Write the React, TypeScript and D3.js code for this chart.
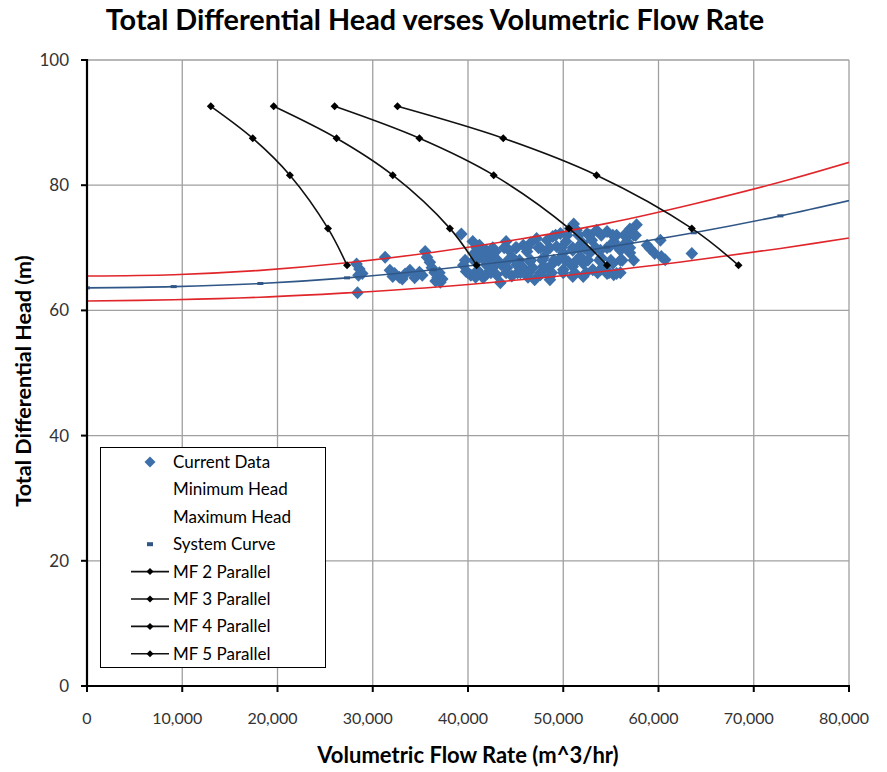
import React, { useEffect, useRef } from "react";
import * as d3 from "d3";

const flowTicks = [0, 10000, 20000, 30000, 40000, 50000, 60000, 70000, 80000];
const headTicks = [0, 20, 40, 60, 80, 100];

// pump curves (flow m^3/hr at each head point)
const mfHeads = [92.6, 87.5, 81.6, 73.1, 67.2];
const mf2Flow = [13000, 17400, 21300, 25300, 27300];
const mf3Flow = [19600, 26200, 32100, 38100, 40900];
const mf4Flow = [26000, 34900, 42700, 50600, 54600];
const mf5Flow = [32600, 43700, 53500, 63500, 68400];

// system curve and head band
const systemFlow = [0, 9100, 18200, 27300, 36400, 45500, 54600, 63700, 72800, 81900];
const systemHead = [63.6, 63.8, 64.3, 65.2, 66.5, 68.1, 70.1, 72.4, 75.1, 78.2];
const minHead = [61.5, 61.7, 62.1, 62.8, 63.7, 64.9, 66.3, 68.0, 69.9, 72.0];
const maxHead = [65.5, 65.7, 66.4, 67.6, 69.3, 71.4, 73.9, 77.0, 80.5, 84.5];

// measured operating points [flow, head]
const currentData: [number, number][] = [
  [28300, 67.4], [28600, 66.6], [28900, 65.9], [28500, 65.6], [28400, 62.8],
  [31300, 68.5], [31800, 66.4], [32300, 65.9], [32800, 65.3], [33100, 65.0],
  [32100, 65.4], [33900, 66.4], [34400, 65.2], [34900, 66.1], [35500, 69.4],
  [35700, 68.5], [36000, 67.7], [36200, 66.8], [36500, 66.0], [36800, 65.2],
  [37100, 64.5], [36600, 64.7], [37300, 65.0],
  [39300, 72.2], [39500, 67.2], [39800, 66.2], [40300, 65.6], [40800, 65.3],
  [39700, 68.0], [40500, 71.0], [41200, 70.4], [41900, 69.6], [42600, 68.8],
  [43100, 68.0], [43500, 67.3], [42300, 68.4], [41500, 69.2], [41200, 68.4],
  [41900, 67.3], [42600, 66.8], [43000, 65.7], [40900, 70.0], [41000, 66.4],
  [42000, 65.9], [43400, 64.4], [41600, 65.2], [40700, 69.2], [42900, 69.4],
  [44300, 69.6], [44700, 68.4], [45100, 67.3], [45500, 66.0], [45800, 70.4],
  [46200, 69.4], [46500, 67.8], [46800, 66.8], [47200, 71.5], [47600, 70.0],
  [47900, 68.4], [48100, 66.8], [47600, 65.7], [45100, 70.0], [45800, 66.8],
  [44100, 66.8], [44600, 65.5], [46300, 65.3], [47000, 64.9], [44000, 71.0],
  [46600, 70.8], [48300, 71.2], [48300, 69.6], [48600, 65.4],
  [48900, 71.8], [49700, 72.3], [50700, 73.1], [51100, 73.8], [51400, 72.8],
  [52500, 72.3], [53500, 72.8], [54600, 72.6], [55600, 72.0], [57700, 73.7],
  [57000, 73.0], [57400, 72.0], [56700, 71.8], [56800, 70.8],
  [49300, 70.2], [50000, 69.2], [51000, 69.6], [51800, 68.6], [52800, 69.2],
  [53900, 69.6], [54900, 70.2], [56000, 69.6], [57000, 69.2], [56300, 70.4],
  [47900, 67.0], [48900, 67.5], [50000, 66.5], [51000, 67.0], [52100, 67.5],
  [53100, 66.5], [54200, 67.0], [55200, 67.5], [54600, 65.9], [55600, 65.9],
  [48600, 64.9], [51000, 65.4], [52100, 65.4], [53900, 66.5], [55300, 65.7],
  [50300, 71.0], [52000, 70.8], [53000, 71.2], [55300, 71.0], [49500, 68.0],
  [51500, 70.0], [54000, 68.4], [56000, 68.0], [50500, 67.8],
  [59100, 69.9], [59600, 69.1], [60200, 71.2], [60700, 68.1], [60300, 68.6],
  [63500, 69.1],
  [40000, 66.0], [41200, 66.0], [42400, 66.0], [44000, 66.0], [45200, 66.0],
  [46400, 66.0], [47600, 66.0], [48800, 66.0], [50000, 66.0], [51200, 66.0],
  [52400, 66.0], [53600, 66.0], [54800, 66.0], [56000, 66.0],
  [40600, 68.0], [41800, 68.0], [43000, 68.0], [44200, 68.0], [45400, 68.0],
  [46600, 68.0], [47800, 68.0], [49000, 68.0], [50200, 68.0], [51400, 68.0],
  [52600, 68.0], [53800, 68.0], [55000, 68.0], [56200, 68.0], [57400, 68.0],
  [41400, 70.0], [42600, 70.0], [43800, 70.0], [45000, 70.0], [46200, 70.0],
  [47400, 70.0], [48600, 70.0], [49800, 70.0], [51000, 70.0], [52200, 70.0],
  [53400, 70.0], [54600, 70.0], [55800, 70.0], [57000, 70.0],
  [49200, 72.0], [50400, 72.0], [51600, 72.0], [52800, 72.0], [54000, 72.0],
  [55200, 72.0], [56400, 72.0], [57600, 72.0],
  [33400, 65.8], [35200, 65.6], [37000, 66.0], [58800, 70.4],
];

const W = 887;
const H = 772;
const plot = { left: 87, right: 849, top: 60, bottom: 686 };
const FONT = "Lato, 'Open Sans', sans-serif";
const BLUE = "#3d70aa";
const RED = "#e0262b";
const SYS = "#2f5686";

const diamondPath = (rx: number, ry: number) => {
  const p = d3.path();
  p.moveTo(0, -ry);
  p.lineTo(rx, 0);
  p.lineTo(0, ry);
  p.lineTo(-rx, 0);
  p.closePath();
  return p.toString();
};

const App: React.FC = () => {
  const svgRef = useRef<SVGSVGElement | null>(null);

  useEffect(() => {
    if (!svgRef.current) return;
    const svg = d3.select(svgRef.current);
    svg.selectAll("*").remove();

    const x = d3.scaleLinear().domain([0, 80000]).range([plot.left, plot.right]);
    const y = d3.scaleLinear().domain([0, 100]).range([plot.bottom, plot.top]);

    svg.append("defs")
      .append("clipPath")
      .attr("id", "plot-clip")
      .append("rect")
      .attr("x", plot.left)
      .attr("y", plot.top)
      .attr("width", plot.right - plot.left)
      .attr("height", plot.bottom - plot.top);

    svg.append("rect").attr("width", W).attr("height", H).attr("fill", "#fff");

    // grid
    const grid = svg.append("g").attr("stroke", "#a0a0a0").attr("stroke-width", 1.3);
    flowTicks.slice(1).forEach((t) => {
      grid.append("line")
        .attr("x1", x(t)).attr("x2", x(t))
        .attr("y1", plot.top).attr("y2", plot.bottom);
    });
    headTicks.slice(1).forEach((t) => {
      grid.append("line")
        .attr("x1", plot.left).attr("x2", plot.right)
        .attr("y1", y(t)).attr("y2", y(t));
    });

    const body = svg.append("g").attr("clip-path", "url(#plot-clip)");

    // scatter
    const dataMarker = diamondPath(6.3, 6.5);
    body.append("g")
      .selectAll("path")
      .data(currentData)
      .enter()
      .append("path")
      .attr("d", dataMarker)
      .attr("transform", (d) => `translate(${x(d[0])},${y(d[1])})`)
      .attr("fill", BLUE);

    const line = d3.line<[number, number]>()
      .x((d) => x(d[0]))
      .y((d) => y(d[1]))
      .curve(d3.curveCatmullRom.alpha(0.5));

    const band = (heads: number[]) => systemFlow.map((f, i) => [f, heads[i]] as [number, number]);

    body.append("path").attr("d", line(band(minHead)) as string)
      .attr("fill", "none").attr("stroke", RED).attr("stroke-width", 1.6);
    body.append("path").attr("d", line(band(maxHead)) as string)
      .attr("fill", "none").attr("stroke", RED).attr("stroke-width", 1.6);
    body.append("path").attr("d", line(band(systemHead)) as string)
      .attr("fill", "none").attr("stroke", SYS).attr("stroke-width", 1.6);
    body.append("g")
      .selectAll("rect")
      .data(band(systemHead))
      .enter()
      .append("rect")
      .attr("x", (d) => x(d[0]) - 3)
      .attr("y", (d) => y(d[1]) - 1.5)
      .attr("width", 6)
      .attr("height", 3)
      .attr("fill", SYS);

    // pump curves
    const mfMarker = diamondPath(4, 4);
    [mf2Flow, mf3Flow, mf4Flow, mf5Flow].forEach((flows) => {
      const pts = flows.map((f, i) => [f, mfHeads[i]] as [number, number]);
      body.append("path").attr("d", line(pts) as string)
        .attr("fill", "none").attr("stroke", "#111").attr("stroke-width", 1.6);
      body.append("g")
        .selectAll("path")
        .data(pts)
        .enter()
        .append("path")
        .attr("d", mfMarker)
        .attr("transform", (d) => `translate(${x(d[0])},${y(d[1])})`)
        .attr("fill", "#000");
    });

    // axes
    svg.append("line")
      .attr("x1", plot.left).attr("x2", plot.left)
      .attr("y1", plot.top - 1).attr("y2", plot.bottom + 1)
      .attr("stroke", "#000").attr("stroke-width", 2.2);
    svg.append("line")
      .attr("x1", plot.left - 1).attr("x2", plot.right + 1)
      .attr("y1", plot.bottom).attr("y2", plot.bottom)
      .attr("stroke", "#000").attr("stroke-width", 2.2);

    headTicks.forEach((t) => {
      svg.append("line")
        .attr("x1", plot.left - 6).attr("x2", plot.left)
        .attr("y1", y(t)).attr("y2", y(t))
        .attr("stroke", "#000").attr("stroke-width", 2);
      svg.append("text")
        .attr("x", plot.left - 18)
        .attr("y", y(t))
        .attr("dy", "0.35em")
        .attr("text-anchor", "end")
        .attr("font-family", FONT)
        .attr("font-size", 17)
        .attr("fill", "#333")
        .text(d3.format(",")(t));
    });

    flowTicks.forEach((t) => {
      svg.append("line")
        .attr("x1", x(t)).attr("x2", x(t))
        .attr("y1", plot.bottom).attr("y2", plot.bottom + 6)
        .attr("stroke", "#000").attr("stroke-width", 2);
      svg.append("text")
        .attr("x", x(t) - (t === 0 ? 0 : 5))
        .attr("y", 718)
        .attr("dy", "0.35em")
        .attr("text-anchor", "middle")
        .attr("font-family", FONT)
        .attr("font-size", 16)
        .attr("fill", "#333")
        .text(d3.format(",")(t));
    });

    // titles
    svg.append("text")
      .attr("x", 435).attr("y", 20)
      .attr("dy", "0.35em")
      .attr("text-anchor", "middle")
      .attr("font-family", FONT)
      .attr("font-weight", 700)
      .attr("font-size", 28.8)
      .attr("fill", "#000")
      .text("Total Differential Head verses Volumetric Flow Rate");

    svg.append("text")
      .attr("x", 468).attr("y", 755)
      .attr("dy", "0.35em")
      .attr("text-anchor", "middle")
      .attr("font-family", FONT)
      .attr("font-weight", 700)
      .attr("font-size", 22)
      .attr("fill", "#000")
      .text("Volumetric Flow Rate (m^3/hr)");

    svg.append("text")
      .attr("transform", `translate(23,${(plot.top + plot.bottom) / 2 + 8}) rotate(-90)`)
      .attr("dy", "0.35em")
      .attr("text-anchor", "middle")
      .attr("font-family", FONT)
      .attr("font-weight", 700)
      .attr("font-size", 21.5)
      .attr("fill", "#000")
      .text("Total Differential Head (m)");

    // legend
    const lg = svg.append("g");
    lg.append("rect")
      .attr("x", 100.5).attr("y", 447.5)
      .attr("width", 225).attr("height", 220)
      .attr("fill", "#fff").attr("stroke", "#000").attr("stroke-width", 1);

    const legendItems = [
      "Current Data",
      "Minimum Head",
      "Maximum Head",
      "System Curve",
      "MF 2 Parallel",
      "MF 3 Parallel",
      "MF 4 Parallel",
      "MF 5 Parallel",
    ];
    legendItems.forEach((label, i) => {
      const cy = 462 + i * 27.4;
      if (i === 0) {
        lg.append("path")
          .attr("d", diamondPath(5.5, 5.5))
          .attr("transform", `translate(150,${cy})`)
          .attr("fill", BLUE);
      } else if (i === 3) {
        lg.append("rect")
          .attr("x", 147).attr("y", cy - 2)
          .attr("width", 6).attr("height", 4)
          .attr("fill", SYS);
      } else if (i >= 4) {
        lg.append("line")
          .attr("x1", 131).attr("x2", 169)
          .attr("y1", cy).attr("y2", cy)
          .attr("stroke", "#111").attr("stroke-width", 1.6);
        lg.append("path")
          .attr("d", diamondPath(3.5, 3.5))
          .attr("transform", `translate(150,${cy})`)
          .attr("fill", "#000");
      }
      lg.append("text")
        .attr("x", 173).attr("y", cy)
        .attr("dy", "0.35em")
        .attr("font-family", FONT)
        .attr("font-size", 17)
        .attr("fill", "#000")
        .text(label);
    });
  }, []);

  return (
    <svg
      ref={svgRef}
      width={W}
      height={H}
      style={{ position: "absolute", left: 0, top: 0, display: "block" }}
    />
  );
};

export default App;
